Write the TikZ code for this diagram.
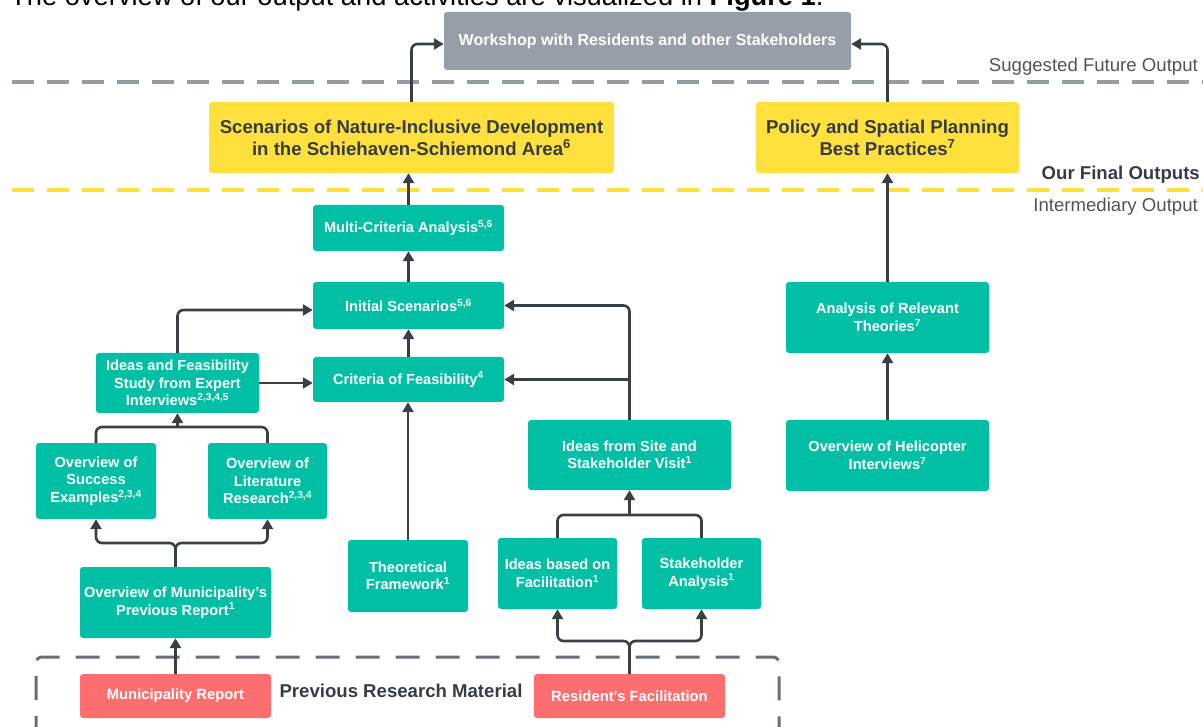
\documentclass[tikz,border=0pt]{standalone}
\usepackage{fontspec}
\setmainfont{Liberation Sans}
\usetikzlibrary{arrows.meta,calc}
\definecolor{teal}{RGB}{0,191,165}
\definecolor{ylw}{RGB}{255,224,61}
\definecolor{redbox}{RGB}{255,110,110}
\definecolor{graybox}{RGB}{152,158,168}
\definecolor{lineclr}{RGB}{58,63,71}
\definecolor{dashgray}{RGB}{150,155,162}
\definecolor{boxdash}{RGB}{105,110,118}
\definecolor{darktxt}{RGB}{55,60,68}
\definecolor{lbltxt}{RGB}{80,84,90}
\tikzset{
  box/.style={rectangle, rounded corners=3pt, inner sep=0pt, align=center, font=\bfseries\fontsize{14.6}{17.5}\selectfont},
  tealbox/.style={box, fill=teal, text=white},
  redb/.style={box, fill=redbox, text=white, font=\bfseries\fontsize{14.8}{17}\selectfont},
  yellowbox/.style={box, fill=ylw, text=darktxt, font=\bfseries\fontsize{18.6}{22}\selectfont},
  graybx/.style={box, fill=graybox, text=white, font=\bfseries\fontsize{16}{19}\selectfont},
  conn/.style={draw=lineclr, line width=2.6pt, rounded corners=6pt},
  arr/.style={conn, -{Triangle[length=10pt,width=11pt]}},
  sep/.style={line width=3.5pt, dash pattern=on 22pt off 13pt},
  sidelbl/.style={anchor=east, inner sep=0pt, text=lbltxt, font=\fontsize{18.6}{21}\selectfont},
}
\begin{document}
\begin{tikzpicture}[x=1pt,y=-1pt]
\useasboundingbox (0,0) rectangle (1203,727);
% top clipped sentence
\node[anchor=base west, inner sep=0pt, font=\fontsize{27.3}{31}\selectfont] (topline) at (10,5.5) {The overview of our output and activities are visualized in \textbf{Figure 1}.};
% separators
\draw[sep, draw=dashgray] (12,82) -- (1203,82);
\draw[sep, draw=ylw] (12,190) -- (1203,190);
\node[sidelbl] (lsugg) at (1198,67) {Suggested Future Output};
\node[sidelbl, text=darktxt, font=\bfseries\fontsize{18.6}{21}\selectfont] (lfinal) at (1200,175) {Our Final Outputs};
\node[sidelbl] (linter) at (1198,207) {Intermediary Output};
% dashed frame
\draw[draw=boxdash, line width=3pt, dash pattern=on 24pt off 16pt, rounded corners=6pt] (36,740) -- (36,657) -- (779,657) -- (779,740);
\node[inner sep=0pt, text=darktxt, font=\bfseries\fontsize{18.6}{21}\selectfont] (prevlbl) at (401,691) {Previous Research Material};
% boxes
\node[graybx, minimum width=407pt, minimum height=58pt] (work) at (647.5,41) {Workshop with Residents and other Stakeholders};
\node[yellowbox, minimum width=405pt, minimum height=71pt] (scen) at (411.5,137.5) {Scenarios of Nature-Inclusive Development\\in the Schiehaven-Schiemond Area\textsuperscript{6}};
\node[yellowbox, minimum width=263pt, minimum height=71pt] (policy) at (887.5,137.5) {Policy and Spatial Planning\\Best Practices\textsuperscript{7}};
\node[tealbox, minimum width=191pt, minimum height=46pt] (mca) at (408.5,228) {Multi-Criteria Analysis\textsuperscript{5,6}};
\node[tealbox, minimum width=191pt, minimum height=47pt] (init) at (408.5,305.5) {Initial Scenarios\textsuperscript{5,6}};
\node[tealbox, minimum width=191pt, minimum height=45pt] (crit) at (408.5,379.5) {Criteria of Feasibility\textsuperscript{4}};
\node[tealbox, minimum width=163pt, minimum height=60pt] (ideasexp) at (177.5,383) {Ideas and Feasibility\\Study from Expert\\Interviews\textsuperscript{2,3,4,5}};
\node[tealbox, minimum width=120pt, minimum height=76pt] (succ) at (96,481) {Overview of\\Success\\Examples\textsuperscript{2,3,4}};
\node[tealbox, minimum width=119pt, minimum height=76pt] (lit) at (267.5,481) {Overview of\\Literature\\Research\textsuperscript{2,3,4}};
\node[tealbox, minimum width=191pt, minimum height=71pt] (munov) at (175.5,602.5) {Overview of Municipality's\\Previous Report\textsuperscript{1}};
\node[tealbox, minimum width=120pt, minimum height=72pt] (theo) at (408,576) {Theoretical\\Framework\textsuperscript{1}};
\node[tealbox, minimum width=203pt, minimum height=70pt] (site) at (629.5,455) {Ideas from Site and\\Stakeholder Visit\textsuperscript{1}};
\node[tealbox, minimum width=119pt, minimum height=71pt] (facil) at (557.5,573.5) {Ideas based on\\Facilitation\textsuperscript{1}};
\node[tealbox, minimum width=119pt, minimum height=71pt] (stake) at (701.5,573.5) {Stakeholder\\Analysis\textsuperscript{1}};
\node[tealbox, minimum width=203pt, minimum height=71pt] (anal) at (887.5,317.5) {Analysis of Relevant\\Theories\textsuperscript{7}};
\node[tealbox, minimum width=203pt, minimum height=71pt] (heli) at (887.5,455.5) {Overview of Helicopter\\Interviews\textsuperscript{7}};
\node[redb, minimum width=191pt, minimum height=44pt] (munrep) at (175.5,696) {Municipality Report};
\node[redb, minimum width=191pt, minimum height=44pt] (resfac) at (629.5,696) {Resident's Facilitation};
% junctions
\coordinate (j1) at (177.5,427);
\coordinate (j2) at (175.5,543);
\coordinate (j3) at (629.5,515);
\coordinate (j4) at (629.5,641);
% connectors
\draw[arr] (scen.north) |- ([yshift=-3pt]work.west);
\draw[arr] (policy.north) |- ([yshift=-3pt]work.east);
\draw[arr] (mca.north) -- (mca.north |- scen.south);
\draw[arr] (init.north) -- (mca.south);
\draw[arr] (crit.north) -- (init.south);
\draw[arr] (ideasexp.north) |- ([yshift=-4.5pt]init.west);
\draw[arr] (ideasexp.east) -- (ideasexp.east -| crit.west);
\draw[arr] (site.north) |- (init.east);
\draw[arr] (site.north |- crit.east) -- (crit.east);
\draw[conn] (succ.north) |- (j1) -| (lit.north);
\draw[arr] (j1) -- (ideasexp.south);
\draw[arr] (munov.north) -- (j2) -| (succ.south);
\draw[arr] (munov.north) -- (j2) -| (lit.south);
\draw[arr] (theo.north) -- (theo.north |- crit.south);
\draw[conn] (facil.north) |- (j3) -| (stake.north);
\draw[arr] (j3) -- (site.south);
\draw[arr] (resfac.north) -- (j4) -| (facil.south);
\draw[arr] (resfac.north) -- (j4) -| (stake.south);
\draw[arr] (munrep.north) -- (munov.south);
\draw[arr] (heli.north) -- (anal.south);
\draw[arr] (anal.north) -- (policy.south);
\end{tikzpicture}
\end{document}
